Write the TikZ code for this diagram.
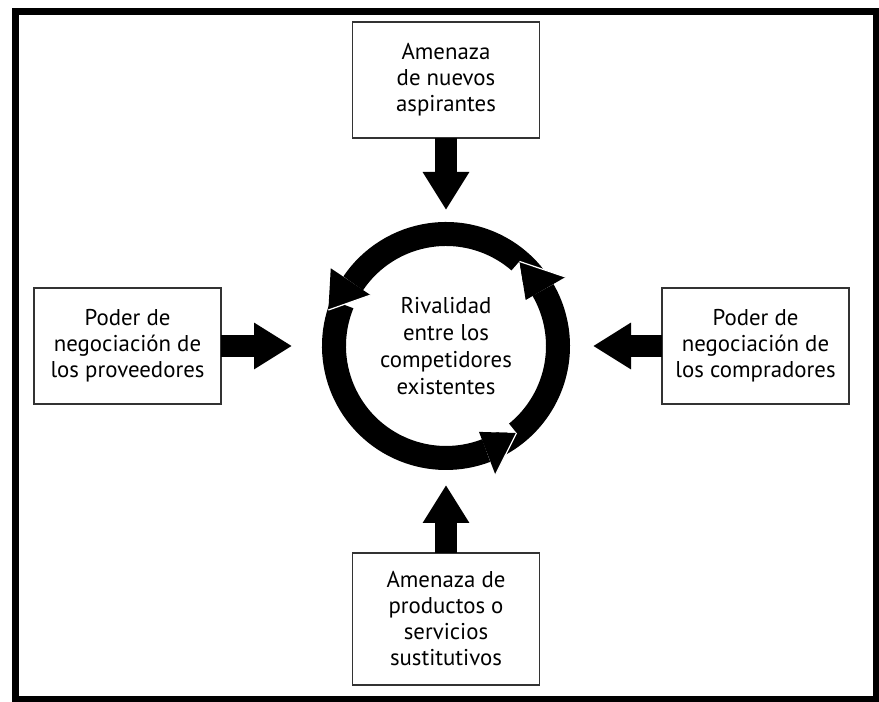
\documentclass[tikz,border=0pt]{standalone}
\usepackage{fontspec}
\setmainfont{PT Sans}
\usetikzlibrary{positioning, arrows.meta}
\tikzstyle{box} = [rectangle, minimum width=3.74cm, minimum height=2.32cm, text centered, align=center, draw=black!80, line width=0.8pt, inner sep=0pt, outer sep=0pt, font=\fontsize{13pt}{14.8pt}\selectfont]
\tikzstyle{center} = [circle, minimum size=4.96cm, inner sep=0pt, outer sep=0pt, align=center, font=\fontsize{13pt}{15.2pt}\selectfont]
\tikzstyle{fatarrow} = [line width=0.44cm, -{Triangle[width=0.88cm, length=0.76cm]}]
\tikzstyle{ring} = [line width=0.48cm]
\tikzstyle{slit} = [white, line width=0.7pt]

\begin{document}
\begin{tikzpicture}
	\useasboundingbox (0,0) rectangle (17.58,14.04);
	\draw [line width=0.14cm] (0.31,0.05) rectangle (17.52,13.8);

	% ring of three curved arrows
	\coordinate (hub) at (8.92,7.12);
	\foreach \a/\b in {38/146, 158/291, 296/390}
		\draw [ring] ([shift={(\a:2.24)}]hub) arc[start angle=\a, end angle=\b, radius=2.24];
	% heads with the tip in the middle of the ring
	\foreach \b/\c in {291/309, 390/409} {
		\coordinate (tip) at ([shift={(\c:2.24)}]hub);
		\coordinate (outer) at ([shift={(\b:2.76)}]hub);
		\coordinate (inner) at ([shift={(\b:1.84)}]hub);
		\fill [white] (inner) -- (tip) -- (hub) -- cycle;
		\fill (outer) -- (tip) -- (inner) -- cycle;
		\draw [slit] (outer) -- (tip);
	}
	% head with the tip on the outer edge
	\coordinate (tip) at ([shift={(163:2.46)}]hub);
	\coordinate (outer) at ([shift={(146:2.78)}]hub);
	\coordinate (inner) at ([shift={(146:1.82)}]hub);
	\fill (outer) -- (tip) -- (inner) -- cycle;
	\draw [slit] (tip) -- (inner);

	\node (rival) [center] at (hub) {Rivalidad\\entre los\\competidores\\existentes};
	\node (entrantes) [box, above=1.68cm of rival] {Amenaza\\de nuevos\\aspirantes};
		\draw [fatarrow, shorten >=0.24cm] (entrantes) -- (rival);
	\node (proveedores) [box, left=2.02cm of rival] {Poder de\\negociación de\\los proveedores};
		\draw [fatarrow, shorten >=0.6cm] (proveedores) -- (rival);
	\node (compradores) [box, right=1.84cm of rival] {Poder de\\negociación de\\los compradores};
		\draw [fatarrow, shorten >=0.46cm] (compradores) -- (rival);
	\node (sustitutos) [box, below=1.66cm of rival, minimum height=2.64cm] {Amenaza de\\productos o\\servicios\\sustitutivos};
		\draw [fatarrow, shorten >=0.3cm] (sustitutos) -- (rival);
\end{tikzpicture}
\end{document}
